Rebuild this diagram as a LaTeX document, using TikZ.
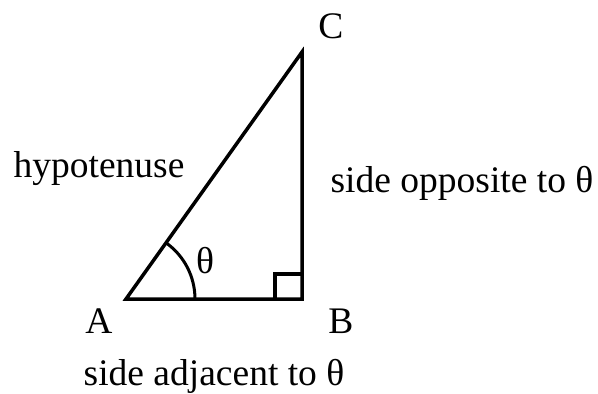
\documentclass[tikz,border=0pt]{standalone}
\usepackage{fontspec}
\setmainfont{Liberation Serif}
\usetikzlibrary{calc}
\begin{document}
\begin{tikzpicture}[x=1pt,y=-1pt,
  edge/.style={line width=3.5pt,line join=miter},
  lbl/.style={anchor=base,inner sep=0pt,font=\fontsize{37.5}{40}\selectfont}]
\useasboundingbox (0,0) rectangle (598,394);
\coordinate (A) at (126,299);
\coordinate (B) at (302,299);
\coordinate (C) at (302,52);
\draw[edge] (A) -- (B) -- (C) -- cycle;
\draw[edge] ($(B)+(-27,0)$) -- ++(0,-25) -- ++(27,0);
\draw[line width=3pt] ($(A)+(69,0)$) arc[start angle=0,end angle=-54.5,radius=69];
\node[lbl] (ta) at (99,333) {A};
\node[lbl] (tb) at (341,333) {B};
\node[lbl] (tc) at (331,38) {C};
\node[lbl] (th) at (205,273) {θ};
\node[lbl] (hyp) at (99,177) {hypotenuse};
\node[lbl] (opp) at (462,192) {side opposite to θ};
\node[lbl] (adj) at (214,385) {side adjacent to θ};
\end{tikzpicture}
\end{document}
